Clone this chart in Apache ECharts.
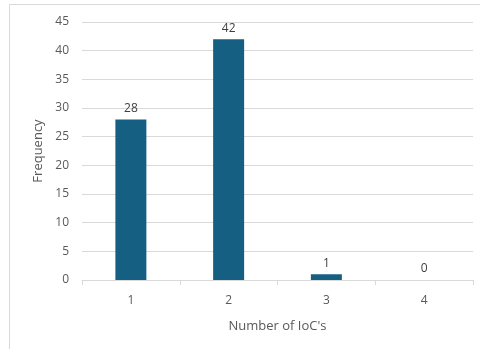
<!DOCTYPE html>
<html>
<head>
<meta charset="utf-8">
<script src="https://cdn.jsdelivr.net/npm/echarts@6/dist/echarts.min.js"></script>
<style>
  html, body { margin: 0; padding: 0; background: #fff; }
  #chart { width: 480px; height: 349px; }
</style>
</head>
<body>
<div id="chart"></div>
<script>
// Frequency of the number of IoC's
const categories = ['1', '2', '3', '4'];
const frequency = [28, 42, 1, 0];
const yMin = 0;
const yMax = 45;
const yStep = 5;

const textColor = '#595959';
const fontFamily = '"Open Sans", "Liberation Sans", sans-serif';

const chart = echarts.init(document.getElementById('chart'), null, { renderer: 'canvas' });
chart.setOption({
  animation: false,
  textStyle: { fontFamily: fontFamily },
  graphic: [{
    type: 'rect',
    shape: { x: 9.5, y: 4.5, width: 600, height: 600 },
    style: { fill: 'none', stroke: '#d9d9d9', lineWidth: 1 },
    silent: true
  }],
  grid: { left: 82, right: 7, top: 22, bottom: 69, containLabel: false },
  xAxis: {
    type: 'category',
    data: categories,
    name: "Number of IoC's",
    nameLocation: 'middle',
    nameGap: 40,
    nameTextStyle: { color: textColor, fontSize: 13, fontFamily: fontFamily },
    axisLine: { lineStyle: { color: '#d9d9d9', width: 1 } },
    axisTick: { show: true, length: 5, lineStyle: { color: '#d9d9d9' } },
    axisLabel: { color: textColor, fontSize: 12, margin: 15, fontFamily: fontFamily }
  },
  yAxis: {
    type: 'value',
    min: yMin,
    max: yMax,
    interval: yStep,
    name: 'Frequency',
    nameLocation: 'middle',
    nameGap: 35,
    nameRotate: 90,
    nameTextStyle: { color: textColor, fontSize: 13, fontFamily: fontFamily },
    axisLine: { show: false },
    axisTick: { show: false },
    axisLabel: { color: textColor, fontSize: 12, margin: 13, fontFamily: fontFamily },
    splitLine: { lineStyle: { color: '#d9d9d9', width: 1 } }
  },
  series: [{
    type: 'bar',
    data: frequency,
    barWidth: 31,
    itemStyle: { color: '#156082' },
    label: {
      show: true,
      position: 'top',
      distance: 5,
      color: '#404040',
      fontSize: 12,
      fontFamily: fontFamily
    }
  }]
});
</script>
</body>
</html>
